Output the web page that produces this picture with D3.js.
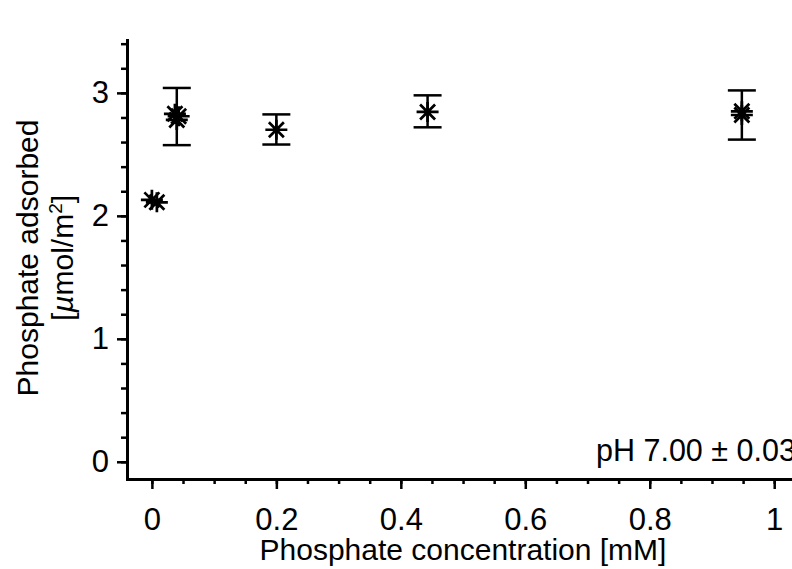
<!DOCTYPE html>
<html>
  <head>
    <meta charset="utf-8">
    <style>
      body { margin: 0; background: #fff; }
      svg { display: block; }
      text { font-family: 'Liberation Sans', Arial, Helvetica, sans-serif; fill: #000; }
      .axis .domain { stroke: #000; stroke-width: 3; stroke-linecap: square; }
      .axis line { stroke: #000; stroke-width: 2.5; }
      .axis text { font-size: 31px; }
    </style>
  </head>
  <body>
    <div id="container"></div>
    <script src="https://d3js.org/d3.v7.min.js"></script>
    <script>

    // mean values with error bars
    var concMean = [0.005, 0.04, 0.2, 0.443, 0.948];
    var adsMean  = [2.12, 2.81, 2.70, 2.845, 2.83];
    var errLow   = [null, 2.575, 2.58, 2.72, 2.62];
    var errHigh  = [null, 3.04, 2.825, 2.98, 3.02];

    // individual replicates (overlapping asterisks)
    var repConc = [0.0, 0.008, 0.037, 0.040, 0.043, 0.2, 0.443, 0.948, 0.948];
    var repAds  = [2.13, 2.11, 2.83, 2.78, 2.81, 2.70, 2.845, 2.85, 2.82];

    var xMajor = [0, 0.2, 0.4, 0.6, 0.8, 1];
    var xMajorLabels = ["0", "0.2", "0.4", "0.6", "0.8", "1"];
    var yMajor = [0, 1, 2, 3];
    var xMinor = d3.range(0, 1.06, 0.05);
    var yMinor = d3.range(0, 3.41, 0.2);

    var W = 792, H = 569;

    var svg = d3.select("#container").append("svg")
        .attr("width", W)
        .attr("height", H);

    var x = d3.scaleLinear().domain([-0.04, 1.08]).range([127, 824]);
    var y = d3.scaleLinear().domain([-0.14, 3.43]).range([479, 40]);

    // minor ticks
    svg.append("g")
        .attr("class", "axis")
        .attr("transform", "translate(0,479)")
        .call(d3.axisBottom(x).tickValues(xMinor).tickSize(5).tickSizeOuter(0).tickFormat(""))
        .select(".domain").remove();

    svg.append("g")
        .attr("class", "axis")
        .attr("transform", "translate(127,0)")
        .call(d3.axisLeft(y).tickValues(yMinor).tickSize(6).tickSizeOuter(0).tickFormat(""))
        .select(".domain").remove();

    // major ticks + labels
    svg.append("g")
        .attr("class", "axis")
        .attr("transform", "translate(0,479)")
        .call(d3.axisBottom(x).tickValues(xMajor).tickSize(10).tickSizeOuter(0).tickPadding(19)
          .tickFormat(function(d, i) { return xMajorLabels[i]; }));

    svg.append("g")
        .attr("class", "axis")
        .attr("transform", "translate(127,0)")
        .call(d3.axisLeft(y).tickValues(yMajor).tickSize(10).tickSizeOuter(0).tickPadding(8)
          .tickFormat(d3.format("d")));

    // error bars
    var bars = svg.append("g")
        .attr("stroke", "#000")
        .attr("stroke-width", 2.5)
        .selectAll("g")
        .data(concMean.map(function(c, i) { return {c: c, lo: errLow[i], hi: errHigh[i]}; })
          .filter(function(d) { return d.lo != null; }))
        .enter().append("g");

    bars.append("line")
        .attr("x1", function(d) { return x(d.c); })
        .attr("x2", function(d) { return x(d.c); })
        .attr("y1", function(d) { return y(d.lo); })
        .attr("y2", function(d) { return y(d.hi); });

    [ "lo", "hi" ].forEach(function(k) {
      bars.append("line")
          .attr("x1", function(d) { return x(d.c) - 14; })
          .attr("x2", function(d) { return x(d.c) + 14; })
          .attr("y1", function(d) { return y(d[k]); })
          .attr("y2", function(d) { return y(d[k]); });
    });

    // asterisk markers
    var star = "M-11,0H11M0,-10V10M-7.5,-7.5L7.5,7.5M-7.5,7.5L7.5,-7.5";

    svg.append("g")
        .selectAll("path")
        .data(repConc.map(function(c, i) { return {c: c, a: repAds[i]}; }))
        .enter().append("path")
          .attr("d", star)
          .attr("transform", function(d) { return "translate(" + x(d.c) + "," + y(d.a) + ")"; })
          .attr("fill", "none")
          .attr("stroke", "#000")
          .attr("stroke-width", 2.7);

    // annotation
    svg.append("text")
        .attr("x", 596)
        .attr("y", 461)
        .attr("font-size", 30.5)
        .text("pH 7.00 \u00b1 0.03");

    // axis titles
    svg.append("text")
        .attr("x", 463)
        .attr("y", 560)
        .attr("text-anchor", "middle")
        .attr("font-size", 30)
        .text("Phosphate concentration [mM]");

    var yt = svg.append("text")
        .attr("transform", "translate(38,258) rotate(-90)")
        .attr("text-anchor", "middle")
        .attr("font-size", 30);
    yt.append("tspan")
        .attr("x", 0).attr("y", 0)
        .text("Phosphate adsorbed");
    var l2 = yt.append("tspan")
        .attr("x", 0).attr("y", 35);
    l2.append("tspan").text("[");
    l2.append("tspan").attr("font-style", "italic").text("\u00b5");
    l2.append("tspan").text("mol/m");
    l2.append("tspan").attr("font-size", 19).attr("dy", -11).text("2");
    l2.append("tspan").attr("dy", 11).text("]");

    </script>
  </body>
</html>
